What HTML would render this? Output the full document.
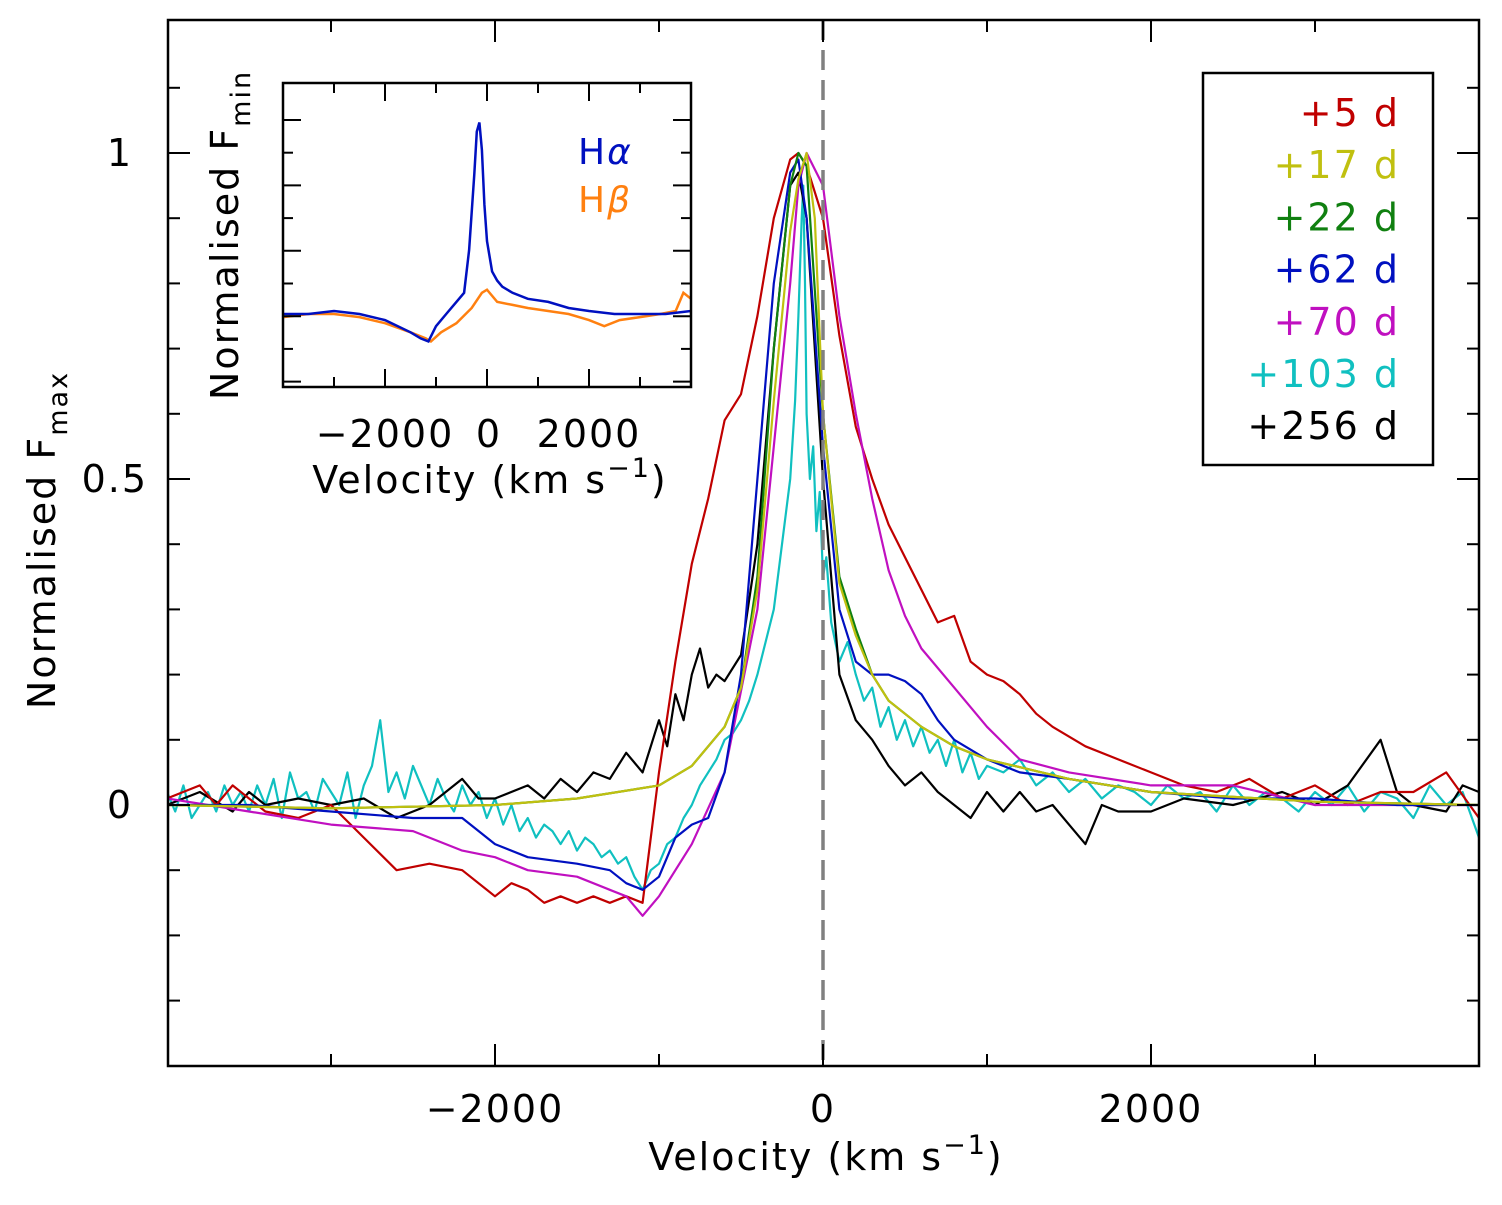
<!DOCTYPE html>
<html><head><meta charset="utf-8"><style>
body{margin:0;background:#fff}
svg text{font-family:"DejaVu Sans","Liberation Sans",sans-serif;letter-spacing:2px}
</style></head><body>
<svg id="chart" width="1502" height="1200" viewBox="0 0 1502 1200" xmlns="http://www.w3.org/2000/svg">
<g id="main"></g>
</svg>
<script>
const NS="http://www.w3.org/2000/svg";
// main chart data
const vRed=[-4000,-3800,-3700,-3600,-3400,-3200,-3000,-2800,-2600,-2400,-2200,-2000,-1900,-1800,-1700,-1600,-1500,-1400,-1300,-1200,-1100,-1000,-900,-800,-700,-600,-500,-400,-300,-200,-150,-100,0,100,200,300,400,500,600,700,800,900,1000,1100,1200,1300,1400,1600,1800,2000,2200,2400,2600,2800,3000,3200,3400,3600,3800,4000];
const fRed=[0.01,0.03,0.0,0.03,-0.01,-0.02,0.0,-0.05,-0.1,-0.09,-0.1,-0.14,-0.12,-0.13,-0.15,-0.14,-0.15,-0.14,-0.15,-0.14,-0.15,0.05,0.22,0.37,0.47,0.59,0.63,0.75,0.9,0.99,1.0,0.98,0.9,0.72,0.58,0.5,0.43,0.38,0.33,0.28,0.29,0.22,0.2,0.19,0.17,0.14,0.12,0.09,0.07,0.05,0.03,0.02,0.04,0.01,0.03,0.0,0.02,0.02,0.05,-0.02];
const vMag=[-4000,-3500,-3000,-2500,-2200,-2000,-1800,-1500,-1300,-1200,-1100,-1000,-800,-600,-400,-300,-200,-150,-100,0,100,200,300,400,500,600,800,1000,1200,1500,2000,2500,3000,4000];
const fMag=[0.01,-0.01,-0.03,-0.04,-0.07,-0.08,-0.1,-0.11,-0.13,-0.14,-0.17,-0.14,-0.06,0.05,0.3,0.55,0.8,0.95,1.0,0.95,0.75,0.6,0.47,0.36,0.29,0.24,0.18,0.12,0.07,0.05,0.03,0.03,0.0,0.0];
const vBlue=[-4000,-3500,-3000,-2500,-2200,-2000,-1800,-1500,-1300,-1200,-1100,-1000,-900,-800,-700,-600,-500,-400,-300,-200,-150,-100,0,100,200,300,400,500,600,700,800,1000,1200,1500,2000,2500,3000,3500,4000];
const fBlue=[0.0,0.0,-0.01,-0.02,-0.02,-0.06,-0.08,-0.09,-0.1,-0.12,-0.13,-0.11,-0.05,-0.03,-0.02,0.05,0.2,0.5,0.8,0.97,0.99,0.9,0.55,0.3,0.22,0.2,0.2,0.19,0.17,0.13,0.1,0.07,0.05,0.04,0.02,0.01,0.01,0.0,0.0];
const vGreen=[-4000,-3000,-2000,-1500,-1000,-800,-600,-500,-400,-300,-200,-150,-100,0,100,200,300,400,600,800,1000,1500,2000,3000,4000];
const fGreen=[0.0,-0.005,0.0,0.01,0.03,0.06,0.12,0.18,0.35,0.7,0.95,1.0,0.98,0.6,0.35,0.27,0.2,0.16,0.12,0.09,0.07,0.04,0.02,0.005,0.0];
const vYellow=[-4000,-3000,-2000,-1500,-1000,-800,-600,-500,-400,-300,-200,-150,-100,-50,0,100,200,300,400,600,800,1000,1500,2000,3000,4000];
const fYellow=[0.0,-0.005,0.0,0.01,0.03,0.06,0.12,0.18,0.33,0.62,0.88,0.96,1.0,0.9,0.6,0.34,0.26,0.2,0.16,0.12,0.09,0.07,0.04,0.02,0.005,0.0];
const vBlack=[-4000,-3800,-3600,-3500,-3400,-3200,-3000,-2800,-2600,-2400,-2200,-2100,-2000,-1800,-1700,-1600,-1500,-1400,-1300,-1200,-1100,-1000,-950,-900,-850,-800,-750,-700,-650,-600,-500,-400,-300,-200,-150,-100,0,100,200,300,400,500,600,700,800,900,1000,1100,1200,1300,1400,1500,1600,1700,1800,2000,2200,2500,2800,3000,3200,3400,3500,3600,3800,3900,4000];
const fBlack=[0.0,0.02,-0.01,0.02,0.0,0.01,0.0,0.01,-0.02,0.0,0.04,0.01,0.01,0.03,0.01,0.04,0.02,0.05,0.04,0.08,0.05,0.13,0.09,0.17,0.13,0.2,0.24,0.18,0.2,0.19,0.23,0.4,0.7,0.95,0.97,0.9,0.5,0.2,0.13,0.1,0.06,0.03,0.05,0.02,0.0,-0.02,0.02,-0.01,0.02,-0.01,0.0,-0.03,-0.06,0.0,-0.01,-0.01,0.01,0.0,0.02,0.0,0.03,0.1,0.02,0.0,-0.01,0.03,0.02];
const vCyan=[-4000,-3950,-3900,-3850,-3800,-3750,-3700,-3650,-3600,-3550,-3500,-3450,-3400,-3350,-3300,-3250,-3200,-3150,-3100,-3050,-3000,-2950,-2900,-2850,-2800,-2750,-2700,-2650,-2600,-2550,-2500,-2450,-2400,-2350,-2300,-2250,-2200,-2150,-2100,-2050,-2000,-1950,-1900,-1850,-1800,-1750,-1700,-1650,-1600,-1550,-1500,-1450,-1400,-1350,-1300,-1250,-1200,-1150,-1100,-1050,-1000,-950,-900,-850,-800,-750,-700,-650,-600,-550,-500,-450,-400,-350,-300,-250,-200,-170,-150,-130,-120,-110,-100,-80,-60,-40,-20,0,20,50,100,150,200,250,300,350,400,450,500,550,600,650,700,750,800,850,900,950,1000,1100,1200,1300,1400,1500,1600,1700,1800,1900,2000,2100,2200,2300,2400,2500,2600,2700,2800,2900,3000,3100,3200,3300,3400,3500,3600,3700,3800,3900,4000];
const fCyan=[0.02,-0.01,0.03,-0.02,0.0,0.02,-0.01,0.03,0.0,0.02,-0.01,0.03,0.0,0.04,-0.02,0.05,0.01,0.02,-0.01,0.04,0.02,0.0,0.05,-0.02,0.03,0.06,0.13,0.02,0.05,0.01,0.06,0.03,0.0,0.04,0.01,-0.01,0.03,0.0,0.02,-0.02,0.01,-0.03,0.0,-0.04,-0.02,-0.05,-0.03,-0.04,-0.06,-0.04,-0.07,-0.05,-0.06,-0.08,-0.07,-0.09,-0.08,-0.11,-0.13,-0.1,-0.09,-0.06,-0.05,-0.02,0.0,0.03,0.05,0.07,0.1,0.11,0.13,0.16,0.2,0.25,0.3,0.4,0.5,0.62,0.75,0.9,0.95,0.8,0.6,0.5,0.55,0.42,0.48,0.35,0.38,0.28,0.22,0.25,0.2,0.16,0.18,0.12,0.15,0.1,0.13,0.09,0.12,0.08,0.1,0.06,0.1,0.05,0.08,0.04,0.06,0.05,0.07,0.03,0.05,0.02,0.04,0.01,0.03,0.02,0.0,0.03,0.01,0.02,-0.01,0.03,0.0,0.02,0.01,-0.01,0.02,0.0,0.03,-0.01,0.02,0.01,-0.02,0.03,0.0,0.02,-0.05];
// inset data
const vHa=[-4000,-3500,-3000,-2500,-2000,-1500,-1300,-1150,-1000,-800,-600,-450,-350,-250,-200,-150,-100,-50,0,100,200,300,500,800,1200,1600,2000,2500,3000,3500,4000];
const fHa=[0.24,0.24,0.25,0.24,0.22,0.18,0.16,0.15,0.2,0.24,0.28,0.31,0.45,0.7,0.84,0.87,0.78,0.6,0.48,0.38,0.35,0.33,0.31,0.29,0.28,0.26,0.25,0.24,0.24,0.24,0.25];
const vHb=[-4000,-3500,-3000,-2500,-2000,-1500,-1200,-1100,-900,-600,-300,-100,0,200,500,800,1200,1600,2000,2300,2600,3000,3400,3700,3850,4000];
const fHb=[0.23,0.24,0.24,0.23,0.21,0.18,0.16,0.15,0.18,0.21,0.26,0.31,0.32,0.28,0.27,0.26,0.25,0.24,0.22,0.2,0.22,0.23,0.24,0.25,0.31,0.29];
const xTicks=[-2000,0,2000], yTickLabels=[0,0.5,1];
const insetXTicks=[-2000,0,2000];

const X=v=>823+v*0.164, Y=f=>805-f*652;
const IX=v=>487+v*0.051, IY=f=>387-f*304;
const g=document.getElementById('main');
function el(tag,attrs,parent){const e=document.createElementNS(NS,tag);for(const k in attrs)e.setAttribute(k,attrs[k]);(parent||g).appendChild(e);return e;}
const clip=el('clipPath',{id:'mc'});el('rect',{x:168,y:20,width:1311,height:1046},clip);
const sg=el('g',{'clip-path':'url(#mc)'});
function ser(v,f,c,n){const e=el('polyline',{points:v.map((x,i)=>X(x).toFixed(1)+','+Y(f[i]).toFixed(1)).join(' '),fill:'none',stroke:c,'stroke-width':2.2,'stroke-linejoin':'round'},sg);

}
ser(vCyan,fCyan,'#10c0c0','series-plus-103d');
ser(vBlack,fBlack,'#000','series-plus-256d');
ser(vRed,fRed,'#c00000','series-plus-5d');
ser(vMag,fMag,'#c010c0','series-plus-70d');
ser(vBlue,fBlue,'#0010c0','series-plus-62d');
ser(vGreen,fGreen,'#108010','series-plus-22d');
ser(vYellow,fYellow,'#c0c010','series-plus-17d');
const dl=el('line',{x1:823,x2:823,y1:20,y2:1066,stroke:'#808080','stroke-width':3.5,'stroke-dasharray':'20,10'});


const fr=el('rect',{x:168,y:20,width:1311,height:1046,fill:'none',stroke:'#000','stroke-width':2.5});


for(let v=-3000;v<=3000;v+=1000){const L=(v%2000===0)?22:12;
 el('line',{x1:X(v),x2:X(v),y1:1066,y2:1066-L,stroke:'#000','stroke-width':2});
 el('line',{x1:X(v),x2:X(v),y1:20,y2:20+L,stroke:'#000','stroke-width':2});}
xTicks.forEach(v=>{const t=el('text',{x:X(v),y:1122,'text-anchor':'middle','font-size':38});t.textContent=v<0?'\u2212'+(-v):String(v);

});
for(let i=-3;i<=11;i++){const f=i/10;const L=(i%5===0)?22:12;
 el('line',{x1:168,x2:168+L,y1:Y(f),y2:Y(f),stroke:'#000','stroke-width':2});
 el('line',{x1:1479,x2:1479-L,y1:Y(f),y2:Y(f),stroke:'#000','stroke-width':2});}
yTickLabels.forEach(f=>{const t=el('text',{x:f===0.5?148:133,y:Y(f)+13,'text-anchor':'end','font-size':38});t.textContent=String(f);

});
const xt=el('text',{x:826,y:1170,'text-anchor':'middle','font-size':38});
xt.innerHTML='Velocity (km s<tspan dy="-16" font-size="27">\u22121</tspan><tspan dy="16">)</tspan>';


const yt=el('text',{transform:'translate(55,540) rotate(-90)','text-anchor':'middle','font-size':38});
yt.innerHTML='Normalised F<tspan dy="12" font-size="27">max</tspan>';


const lg=el('g',{});


el('rect',{x:1203,y:73,width:230,height:392,fill:'#fff',stroke:'#000','stroke-width':2.5},lg);
const legLabels=['+5  d','+17  d','+22  d','+62  d','+70  d','+103  d','+256  d'];
const legColors=['#c00000','#c0c010','#108010','#0010c0','#c010c0','#10c0c0','#000'];
legLabels.forEach((s,i)=>{const t=el('text',{x:1400,y:126+i*52.2,'text-anchor':'end','font-size':38,fill:legColors[i],'xml:space':'preserve'},lg);t.textContent=s;

});
const ig=el('g',{});


el('rect',{x:283,y:83,width:408,height:304,fill:'#fff'},ig);
const ic=el('clipPath',{id:'ic'});el('rect',{x:283,y:83,width:408,height:304},ic);
const isg=el('g',{'clip-path':'url(#ic)'},ig);
function iser(v,f,c,n){const e=el('polyline',{points:v.map((x,i)=>IX(x).toFixed(1)+','+IY(f[i]).toFixed(1)).join(' '),fill:'none',stroke:c,'stroke-width':2.5},isg);

}
iser(vHb,fHb,'#ff8010','inset-h-beta');
iser(vHa,fHa,'#0010c0','inset-h-alpha');
el('rect',{x:283,y:83,width:408,height:304,fill:'none',stroke:'#000','stroke-width':2.5},ig);
for(let v=-3000;v<=3000;v+=1000){const L=(v%2000===0)?18:10;
 el('line',{x1:IX(v),x2:IX(v),y1:387,y2:387-L,stroke:'#000','stroke-width':2},ig);
 el('line',{x1:IX(v),x2:IX(v),y1:83,y2:83+L,stroke:'#000','stroke-width':2},ig);}
for(let y=120;y<387;y+=32.7){const L=(Math.round((y-120)/32.7)%2===0)?18:10;
 el('line',{x1:283,x2:283+L,y1:y,y2:y,stroke:'#000','stroke-width':2},ig);
 el('line',{x1:691,x2:691-L,y1:y,y2:y,stroke:'#000','stroke-width':2},ig);}
insetXTicks.forEach(v=>{const t=el('text',{x:IX(v)+(v===0?2:0),y:447,'text-anchor':'middle','font-size':38},ig);t.textContent=v<0?'\u2212'+(-v):String(v);

});
const ixt=el('text',{x:490,y:493,'text-anchor':'middle','font-size':38},ig);
ixt.innerHTML='Velocity (km s<tspan dy="-16" font-size="27">\u22121</tspan><tspan dy="16">)</tspan>';


const iyt=el('text',{transform:'translate(238,235) rotate(-90)','text-anchor':'middle','font-size':38},ig);
iyt.innerHTML='Normalised F<tspan dy="12" font-size="27">min</tspan>';


const ha=el('text',{x:578,y:164,'font-size':36,fill:'#0010c0'},ig);ha.innerHTML='H<tspan font-style="italic">\u03b1</tspan>';


const hb=el('text',{x:578,y:212,'font-size':36,fill:'#ff8010'},ig);hb.innerHTML='H<tspan font-style="italic">\u03b2</tspan>';


</script>
</body></html>
